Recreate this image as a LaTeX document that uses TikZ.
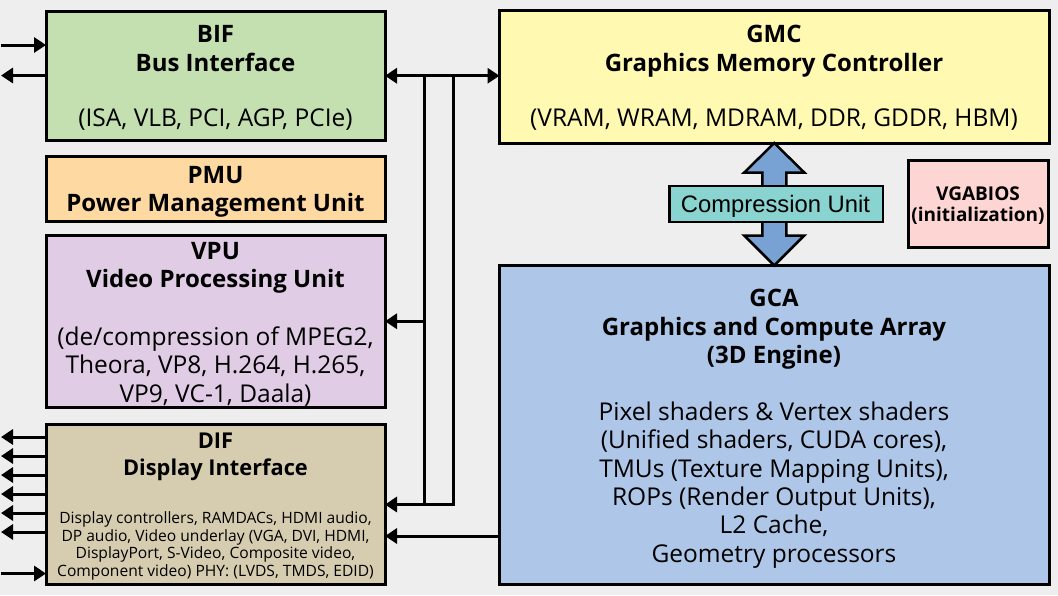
\documentclass[tikz,border=0pt]{standalone}
\usepackage{fontspec}
\setmainfont{Open Sans}
\newfontfamily\arialfont{Liberation Sans}
\usetikzlibrary{arrows.meta,calc}
\definecolor{bgc}{HTML}{EEEEEE}
\definecolor{bifc}{HTML}{C4E0B0}
\definecolor{gmcc}{HTML}{FFF9B2}
\definecolor{pmuc}{HTML}{FFD9A2}
\definecolor{vpuc}{HTML}{E0CCE5}
\definecolor{difc}{HTML}{D6CCB0}
\definecolor{gcac}{HTML}{AEC6E7}
\definecolor{biosc}{HTML}{FDD5D2}
\definecolor{compc}{HTML}{89D4D0}
\definecolor{arrc}{HTML}{77A2D3}
\tikzset{
  box/.style={draw=black, line width=3pt, inner sep=0pt, outer sep=0pt, anchor=north west},
  ttl/.style={font=\bfseries\fontsize{24}{28}\selectfont, inner sep=0pt, anchor=base},
  dtl/.style={font=\fontsize{24.5}{28}\selectfont, inner sep=0pt, anchor=base},
  difttl/.style={font=\bfseries\fontsize{21.8}{26}\selectfont, inner sep=0pt, anchor=base},
  difdtl/.style={font=\fontsize{15.6}{18}\selectfont, inner sep=0pt, anchor=base},
  biosttl/.style={font=\bfseries\fontsize{19}{22}\selectfont, inner sep=0pt, anchor=base},
  conn/.style={draw=black, line width=3pt},
  tip/.style={-{Triangle[length=12pt,width=15pt]}},
  dtip/.style={{Triangle[length=12pt,width=15pt]}-{Triangle[length=12pt,width=15pt]}},
  bigarrow/.style={draw=black, line width=2.5pt, fill=arrc, line join=miter},
}
\begin{document}
\begin{tikzpicture}[x=1pt,y=-1pt]
\fill[bgc] (0,0) rectangle (1058,595);
\useasboundingbox (0,0) rectangle (1058,595);

% boxes
\node[box, fill=bifc, minimum width=339pt, minimum height=128.5pt] (bif) at (46,11.5) {};
\node[box, fill=gmcc, minimum width=549.5pt, minimum height=133pt] (gmc) at (499.5,10) {};
\node[box, fill=pmuc, minimum width=339pt, minimum height=64.5pt] (pmu) at (46,156.5) {};
\node[box, fill=vpuc, minimum width=339pt, minimum height=171.5pt] (vpu) at (46,235.5) {};
\node[box, fill=difc, minimum width=339pt, minimum height=160pt] (dif) at (46,424.5) {};
\node[box, fill=gcac, minimum width=549.5pt, minimum height=318.5pt] (gca) at (499.5,265.5) {};
\node[box, fill=biosc, minimum width=140pt, minimum height=86.5pt] (bios) at (908,160.5) {};

% double arrow GMC <-> GCA
\draw[bigarrow] (gmc.south) -- ++(30,29.5) -- ++(-18,0)
  -- ($(gca.north)+(12,-30)$) -- ++(18,0) -- (gca.north)
  -- ++(-30,-30) -- ++(18,0)
  -- ($(gmc.south)+(-12,29.5)$) -- ++(-18,0) -- cycle;
\node[draw=black, line width=2.5pt, fill=compc, inner sep=0pt, outer sep=0pt,
  minimum width=213.5pt, minimum height=36pt] (comp) at (776.25,204) {};
\node[font=\arialfont\fontsize{23.8}{28}\selectfont, inner sep=0pt, anchor=base] (comptxt) at (775.5,212) {Compression Unit};

% texts
\node[ttl] (bif1) at (215.5,42) {BIF};
\node[ttl] (bif2) at (215.5,71) {Bus Interface};
\node[dtl] (bif3) at (215.5,126.5) {(ISA, VLB, PCI, AGP, PCIe)};

\node[ttl] (gmc1) at (774,42) {GMC};
\node[ttl] (gmc2) at (774,71) {Graphics Memory Controller};
\node[dtl] (gmc3) at (774,126.5) {(VRAM, WRAM, MDRAM, DDR, GDDR, HBM)};

\node[ttl] (pmu1) at (215.5,183) {PMU};
\node[ttl] (pmu2) at (215.5,211.5) {Power Management Unit};

\node[ttl] (vpu1) at (215.5,259) {VPU};
\node[ttl] (vpu2) at (215.5,287.5) {Video Processing Unit};
\node[dtl] (vpu3) at (215.5,345) {(de/compression of MPEG2,};
\node[dtl] (vpu4) at (215.5,373.5) {Theora, VP8, H.264, H.265,};
\node[dtl] (vpu5) at (215.5,402) {VP9, VC-1, Daala)};

\node[difttl] (dif1) at (215.5,448) {DIF};
\node[difttl] (dif2) at (215.5,475) {Display Interface};
\node[difdtl] (dif3) at (215.5,523.5) {Display controllers, RAMDACs, HDMI audio,};
\node[difdtl] (dif4) at (215.5,541) {DP audio, Video underlay (VGA, DVI, HDMI,};
\node[difdtl] (dif5) at (215.5,558.5) {DisplayPort, S-Video, Composite video,};
\node[difdtl] (dif6) at (215.5,576) {Component video) PHY: (LVDS, TMDS, EDID)};

\node[ttl] (gca1) at (774,306.5) {GCA};
\node[ttl] (gca2) at (774,335) {Graphics and Compute Array};
\node[ttl] (gca3) at (774,363.5) {(3D Engine)};
\node[dtl] (gca4) at (774,420) {Pixel shaders \& Vertex shaders};
\node[dtl] (gca5) at (774,448.5) {(Unified shaders, CUDA cores),};
\node[dtl] (gca6) at (774,477) {TMUs (Texture Mapping Units),};
\node[dtl] (gca7) at (774,505) {ROPs (Render Output Units),};
\node[dtl] (gca8) at (774,533.5) {L2 Cache,};
\node[dtl] (gca9) at (774,562) {Geometry processors};

\node[biosttl] (bios1) at (978,200) {VGABIOS};
\node[biosttl] (bios2) at (978,221.5) {(initialization)};

% bus connectors
\coordinate (busA) at (424,75.75);
\coordinate (busB) at (453,75.75);
\draw[conn, dtip] (bif.east) -- (bif.east -| gmc.west);
\draw[conn] (busA) -- (busA |- dif.east);
\draw[conn, tip] (busB) -- (busB |- dif.east) -- (dif.east);
\draw[conn, tip] (busA |- vpu.east) -- (vpu.east);
\coordinate (gcaout) at (499.5,536);
\draw[conn, tip] (gcaout) -- (gcaout -| dif.east);

% external connectors
\coordinate (ext1) at (1,45);
\coordinate (ext2) at (1,75.5);
\draw[conn, tip] (ext1) -- (ext1 -| bif.west);
\draw[conn, tip] (ext2 -| bif.west) -- (ext2);
\foreach \i/\yy in {1/437,2/456,3/475,4/494,5/513,6/532} {
  \coordinate (dout\i) at (1,\yy);
  \draw[conn, tip] (dout\i -| dif.west) -- (dout\i);
}
\coordinate (din) at (1,573.5);
\draw[conn, tip] (din) -- (din -| dif.west);
\end{tikzpicture}
\end{document}
